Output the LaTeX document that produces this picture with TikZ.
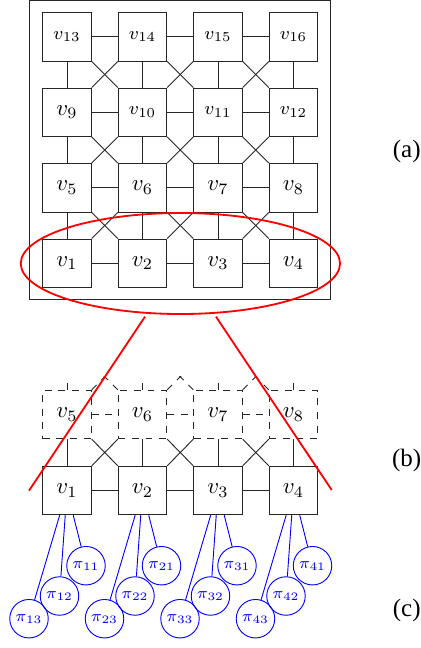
\documentclass[tikz,border=0pt]{standalone}
\usepackage{fontspec}
\newfontfamily\tagfont{Liberation Serif}
\usetikzlibrary{fit,shapes.geometric}
\tikzset{
  vert/.style={
    draw=black!85, minimum size=21.3pt, inner sep=0pt
  },
  vertsm/.style={vert, font=\footnotesize},
  ghostvert/.style={vert, dashed},
  link/.style={draw=black!85},
  ghostlink/.style={link, dashed},
  prob/.style={
    circle, draw=blue, text=blue, minimum size=16.9pt,
    inner sep=0pt, font=\scriptsize
  },
  problink/.style={draw=blue},
  cut/.style={draw=red, line width=0.8pt},
  tag/.style={font=\tagfont\fontsize{11}{13}\selectfont}
}

\begin{document}
\begin{tikzpicture}[x=0.4391pt, y=-0.4391pt]
    \useasboundingbox (0,0) rectangle (421,648);

    % (a) the full grid
    \node[vertsm] (a13) at (67,36.7) {$v_{13}$};
    \node[vertsm] (a14) at (142.5,36.7) {$v_{14}$};
    \node[vertsm] (a15) at (218,36.7) {$v_{15}$};
    \node[vertsm] (a16) at (293.5,36.7) {$v_{16}$};
    \node[vert] (a9) at (67,112.2) {$v_9$};
    \node[vertsm] (a10) at (142.5,112.2) {$v_{10}$};
    \node[vertsm] (a11) at (218,112.2) {$v_{11}$};
    \node[vertsm] (a12) at (293.5,112.2) {$v_{12}$};
    \node[vert] (a5) at (67,187.7) {$v_5$};
    \node[vert] (a6) at (142.5,187.7) {$v_6$};
    \node[vert] (a7) at (218,187.7) {$v_7$};
    \node[vert] (a8) at (293.5,187.7) {$v_8$};
    \node[vert] (a1) at (67,263.2) {$v_1$};
    \node[vert] (a2) at (142.5,263.2) {$v_2$};
    \node[vert] (a3) at (218,263.2) {$v_3$};
    \node[vert] (a4) at (293.5,263.2) {$v_4$};
    \draw[link] (a13) -- (a14) -- (a15) -- (a16)
      (a9) -- (a10) -- (a11) -- (a12)
      (a5) -- (a6) -- (a7) -- (a8)
      (a1) -- (a2) -- (a3) -- (a4);
    \draw[link] (a13) -- (a9) -- (a5) -- (a1)
      (a14) -- (a10) -- (a6) -- (a2)
      (a15) -- (a11) -- (a7) -- (a3)
      (a16) -- (a12) -- (a8) -- (a4);
    \foreach \p/\q in {1/6,2/7,3/8,5/10,6/11,7/12,9/14,10/15,11/16}
      \draw[link] (a\p.north east) -- (a\q.south west);
    \foreach \p/\q in {2/5,3/6,4/7,6/9,7/10,8/11,10/13,11/14,12/15}
      \draw[link] (a\p.north west) -- (a\q.south east);
    \node[draw=black!85, fit=(a13)(a4), inner xsep=5.5pt, inner ysep=5.2pt] (frame) {};
    \node[cut, ellipse, minimum width=140.2pt, minimum height=44.35pt, inner sep=0pt] (ring) at (180.4,263.5) {};

    % (b) bottom row and the row above it
    \node[ghostvert] (b5) at (67,414.5) {$v_5$};
    \node[ghostvert] (b6) at (142.5,414.5) {$v_6$};
    \node[ghostvert] (b7) at (218,414.5) {$v_7$};
    \node[ghostvert] (b8) at (293.5,414.5) {$v_8$};
    \node[vert] (b1) at (67,490.5) {$v_1$};
    \node[vert] (b2) at (142.5,490.5) {$v_2$};
    \node[vert] (b3) at (218,490.5) {$v_3$};
    \node[vert] (b4) at (293.5,490.5) {$v_4$};
    \draw[ghostlink] (b5) -- (b6) -- (b7) -- (b8);
    \begin{scope}
      \clip (0,376.6) rectangle (421,400);
      \coordinate (h9) at (67,363.3);
      \coordinate (h10) at (142.5,363.3);
      \coordinate (h11) at (218,363.3);
      \coordinate (h12) at (293.5,363.3);
      \draw[ghostlink] (b5.north) -- (h9) (b6.north) -- (h10)
        (b7.north) -- (h11) (b8.north) -- (h12);
      \draw[ghostlink] (b5.north east) -- ([xshift=-10.65pt]h10)
        (b6.north west) -- ([xshift=10.65pt]h9)
        (b6.north east) -- ([xshift=-10.65pt]h11)
        (b7.north west) -- ([xshift=10.65pt]h10)
        (b7.north east) -- ([xshift=-10.65pt]h12)
        (b8.north west) -- ([xshift=10.65pt]h11);
    \end{scope}
    \draw[link] (b1) -- (b2) -- (b3) -- (b4);
    \draw[link] (b5) -- (b1) (b6) -- (b2) (b7) -- (b3) (b8) -- (b4);
    \draw[link] (b5.south east) -- (b2.north west) (b6.south west) -- (b1.north east)
      (b6.south east) -- (b3.north west) (b7.south west) -- (b2.north east)
      (b7.south east) -- (b4.north west) (b8.south west) -- (b3.north east);

    % (c) the pi nodes
    \node[prob] (p11) at (86,565.7) {$\pi_{11}$};
    \node[prob] (p12) at (59.5,596) {$\pi_{12}$};
    \node[prob] (p13) at (29,618.7) {$\pi_{13}$};
    \node[prob] (p21) at (161.5,565.7) {$\pi_{21}$};
    \node[prob] (p22) at (135,596) {$\pi_{22}$};
    \node[prob] (p23) at (104.5,618.7) {$\pi_{23}$};
    \node[prob] (p31) at (237,565.7) {$\pi_{31}$};
    \node[prob] (p32) at (210.5,596) {$\pi_{32}$};
    \node[prob] (p33) at (180,618.7) {$\pi_{33}$};
    \node[prob] (p41) at (312.5,565.7) {$\pi_{41}$};
    \node[prob] (p42) at (286,596) {$\pi_{42}$};
    \node[prob] (p43) at (255.5,618.7) {$\pi_{43}$};
    \draw[problink] (b1) -- (p11) (b1) -- (p12) (b1) -- (p13);
    \draw[problink] (b2) -- (p21) (b2) -- (p22) (b2) -- (p23);
    \draw[problink] (b3) -- (p31) (b3) -- (p32) (b3) -- (p33);
    \draw[problink] (b4) -- (p41) (b4) -- (p42) (b4) -- (p43);

    % zoom lines from the ellipse
    \coordinate (cla) at (145,316.7);
    \coordinate (clb) at (29,490.7);
    \coordinate (cra) at (216,316.7);
    \coordinate (crb) at (331.7,490);
    \draw[cut] (cla) -- (clb) (cra) -- (crb);

    \node[tag] (la) at (406.7,151.7) {(a)};
    \node[tag] (lb) at (406.7,460) {(b)};
    \node[tag] (lc) at (406.7,610) {(c)};
  \end{tikzpicture}
\end{document}
